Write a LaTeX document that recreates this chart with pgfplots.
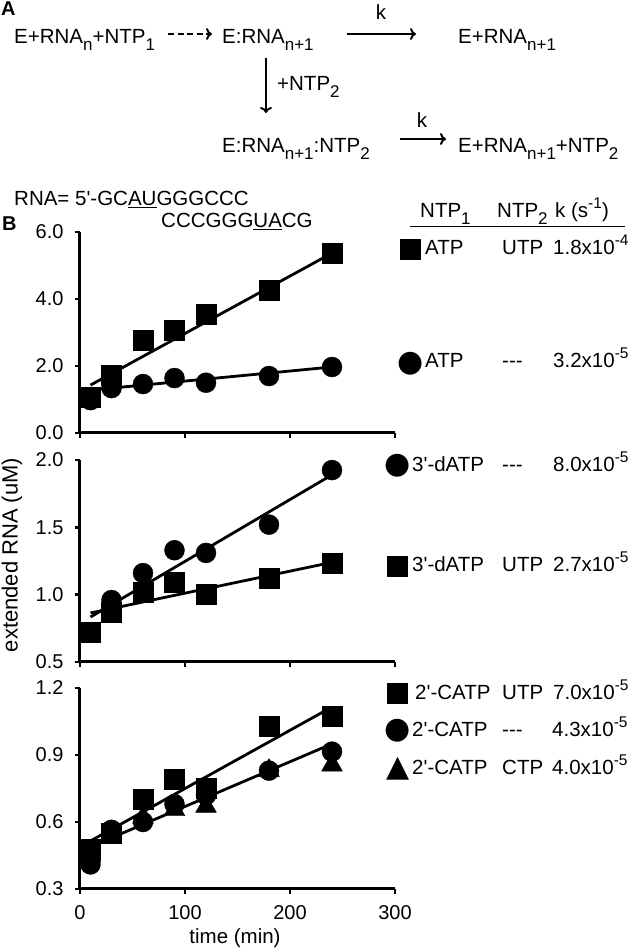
\documentclass[border=0pt]{standalone}
\usepackage{pgfplots}
\pgfplotsset{compat=1.18}
\usepackage{fontspec}
\setmainfont{Liberation Sans}
\newfontfamily\dejavu{DejaVu Sans}
\usetikzlibrary{arrows.meta}
\newcommand\sub[1]{\raisebox{-0.33em}{\fontsize{17}{17}\selectfont #1}}
\newcommand\sups[1]{\raisebox{0.45em}{\fontsize{15.5}{15.5}\selectfont #1}}
\newcommand\q{\textquotesingle}
\newcommand\dashes{-{}-{}-}

\pgfplotstableread{
t sq ci
10 1.07 0.98
30 1.73 1.34
60 2.78 1.46
90 3.07 1.64
120 3.55 1.50
180 4.27 1.70
240 5.37 1.97
}\panelA
\pgfplotstableread{
t sq
10 0.72
30 0.87
60 1.02
90 1.09
120 1.00
180 1.12
240 1.23
}\panelBsq
\pgfplotstableread{
t ci
30 0.96
60 1.16
90 1.33
120 1.31
180 1.52
240 1.925
}\panelBci
\pgfplotstableread{
t sq ci tr
10 0.48 0.41 0.45
30 0.55 0.565 0.55
60 0.70 0.60 0.62
90 0.79 0.68 0.655
120 0.75 0.72 0.67
180 1.03 0.83 0.83
240 1.075 0.915 0.855
}\panelC

\pgfplotsset{panel/.style={
  scale only axis, width=315pt, xmin=0, xmax=300,
  anchor=south west,
  axis x line*=bottom, axis y line*=left,
  axis line style={line width=3pt},
  every tick/.style={black, line width=2.5pt},
  major tick length=5pt, tick align=outside,
  xtick={0,100,200,300},
  /pgf/number format/assume math mode=true,
  tick label style={font=\fontsize{20}{20}\selectfont},
  yticklabel style={xshift=-8pt},
  xticklabel style={yshift=-8pt},
  clip=false},
  dat/.style={only marks, black, mark options={fill=black, draw=black}},
  fit/.style={black, line width=2.8pt, no markers}}

\begin{document}
\begin{tikzpicture}[every node/.style={font=\fontsize{20.5}{22}\selectfont}]
\useasboundingbox (0,0) rectangle (633pt,951pt);

% ---- Scheme A ----
\node[anchor=base west, inner sep=0, font=\fontsize{20}{22}\selectfont\bfseries] at (1pt,935pt) {A};
\node[anchor=base west, inner sep=0] at (14pt,907pt) {E+RNA\sub{n}+NTP\sub{1}};
\draw[line width=2pt, dash pattern=on 6pt off 3.5pt, -{To[length=6pt,width=12pt,line width=2pt]}] (168pt,917pt) -- (212pt,917pt);
\node[anchor=base west, inner sep=0] at (222pt,907pt) {E:RNA\sub{n+1}};
\draw[line width=2pt, -{To[length=6pt,width=12pt,line width=2pt]}] (347pt,917pt) -- (416pt,917pt);
\node[anchor=base, inner sep=0] at (381pt,931pt) {k};
\node[anchor=base west, inner sep=0] at (458pt,907pt) {E+RNA\sub{n+1}};
\draw[line width=2pt, -{To[length=6pt,width=12pt,line width=2pt]}] (266pt,893pt) -- (266pt,838pt);
\node[anchor=base west, inner sep=0] at (277pt,860pt) {+NTP\sub{2}};
\node[anchor=base west, inner sep=0] at (222pt,798pt) {E:RNA\sub{n+1}:NTP\sub{2}};
\draw[line width=2pt, -{To[length=6pt,width=12pt,line width=2pt]}] (400pt,812pt) -- (446pt,812pt);
\node[anchor=base, inner sep=0] at (422pt,823pt) {k};
\node[anchor=base west, inner sep=0] at (458pt,798pt) {E+RNA\sub{n+1}+NTP\sub{2}};
\node[anchor=base west, inner sep=0] at (14pt,745pt) {RNA= 5\q-GC\underline{AU}GGGCCC};
\node[anchor=base west, inner sep=0] at (161pt,723pt) {CCCGGG\underline{UA}CG};
\node[anchor=base west, inner sep=0, font=\fontsize{20}{22}\selectfont\bfseries] at (2pt,720pt) {B};

% ---- Panel 1 ----
\begin{axis}[panel, at={(80pt,518pt)}, height=201pt, ymin=0, ymax=6,
  ytick={0,2,4,6}, xticklabels={},
  yticklabel style={/pgf/number format/.cd, fixed, fixed zerofill, precision=1}]
\addplot[dat, mark=square*, mark size=10pt] table[x=t, y=sq] {\panelA};
\addplot[dat, mark=*, mark size=10pt] table[x=t, y=ci] {\panelA};
\addplot[fit] coordinates {(10,1.43) (240,5.37)};
\addplot[fit] coordinates {(10,1.28) (240,1.97)};
\end{axis}

% ---- Panel 2 ----
\begin{axis}[panel, at={(80pt,289pt)}, height=202pt, ymin=0.5, ymax=2,
  ytick={0.5,1,1.5,2}, xticklabels={},
  yticklabel style={/pgf/number format/.cd, fixed, fixed zerofill, precision=1}]
\addplot[dat, mark=square*, mark size=10pt] table[x=t, y=sq] {\panelBsq};
\addplot[dat, mark=*, mark size=10pt] table[x=t, y=ci] {\panelBci};
\addplot[fit] coordinates {(10,0.834) (240,1.89)};
\addplot[fit] coordinates {(10,0.864) (240,1.24)};
\end{axis}

% ---- Panel 3 ----
\begin{axis}[panel, at={(80pt,62pt)}, height=201pt, ymin=0.3, ymax=1.2,
  ytick={0.3,0.6,0.9,1.2},
  yticklabel style={/pgf/number format/.cd, fixed, fixed zerofill, precision=1}]
\addplot[dat, mark=triangle*, mark size=12pt] table[x=t, y=tr] {\panelC};
\addplot[dat, mark=*, mark size=10pt] table[x=t, y=ci] {\panelC};
\addplot[dat, mark=square*, mark size=10pt] table[x=t, y=sq] {\panelC};
\addplot[fit] coordinates {(8,0.51) (240,1.115)};
\addplot[fit] coordinates {(8,0.485) (240,0.95)};
\end{axis}

\node[rotate=90, inner sep=0, font=\fontsize{22}{24}\selectfont] at (12pt,396pt) {extended RNA (uM)};
\node[inner sep=0] at (235pt,13pt) {time (min)};

% ---- Legend table ----
\node[anchor=base west, inner sep=0] at (420pt,733pt) {NTP\sub{1}};
\node[anchor=base west, inner sep=0] at (497pt,733pt) {NTP\sub{2}};
\node[anchor=base west, inner sep=0] at (555pt,733pt) {k (s\sups{-1})};
\draw[line width=1pt] (410pt,724pt) -- (625pt,724pt);

\node[anchor=south west, inner sep=0] at (400pt,691pt) {\rule{21pt}{21pt}};
\node[anchor=base west, inner sep=0] at (425pt,696pt) {ATP};
\node[anchor=base west, inner sep=0] at (502pt,696pt) {UTP};
\node[anchor=base west, inner sep=0] at (553pt,696pt) {1.8x10\sups{-4}};

\node[inner sep=0, font=\dejavu\fontsize{30}{30}\selectfont] at (411pt,587pt) {●};
\node[anchor=base west, inner sep=0] at (425pt,583pt) {ATP};
\node[anchor=base west, inner sep=0] at (502pt,583pt) {\dashes};
\node[anchor=base west, inner sep=0] at (553pt,583pt) {3.2x10\sups{-5}};

\node[inner sep=0, font=\dejavu\fontsize{30}{30}\selectfont] at (398pt,485pt) {●};
\node[anchor=base west, inner sep=0] at (412pt,479pt) {3\q-dATP};
\node[anchor=base west, inner sep=0] at (502pt,479pt) {\dashes};
\node[anchor=base west, inner sep=0] at (553pt,479pt) {8.0x10\sups{-5}};

\node[anchor=south west, inner sep=0] at (387pt,374pt) {\rule{21pt}{21pt}};
\node[anchor=base west, inner sep=0] at (412pt,379pt) {3\q-dATP};
\node[anchor=base west, inner sep=0] at (502pt,379pt) {UTP};
\node[anchor=base west, inner sep=0] at (553pt,379pt) {2.7x10\sups{-5}};

\node[anchor=south west, inner sep=0] at (387pt,247pt) {\rule{21pt}{21pt}};
\node[anchor=base west, inner sep=0] at (415pt,251pt) {2\q-CATP};
\node[anchor=base west, inner sep=0] at (502pt,251pt) {UTP};
\node[anchor=base west, inner sep=0] at (553pt,251pt) {7.0x10\sups{-5}};

\node[inner sep=0, font=\dejavu\fontsize{30}{30}\selectfont] at (398pt,220pt) {●};
\node[anchor=base west, inner sep=0] at (412pt,214pt) {2\q-CATP};
\node[anchor=base west, inner sep=0] at (502pt,214pt) {\dashes};
\node[anchor=base west, inner sep=0] at (552pt,214pt) {4.3x10\sups{-5}};

\node[inner sep=0, font=\dejavu\fontsize{30}{30}\selectfont] at (398pt,182pt) {▲};
\node[anchor=base west, inner sep=0] at (412pt,176pt) {2\q-CATP};
\node[anchor=base west, inner sep=0] at (502pt,176pt) {CTP};
\node[anchor=base west, inner sep=0] at (552pt,176pt) {4.0x10\sups{-5}};
\end{tikzpicture}
\end{document}
